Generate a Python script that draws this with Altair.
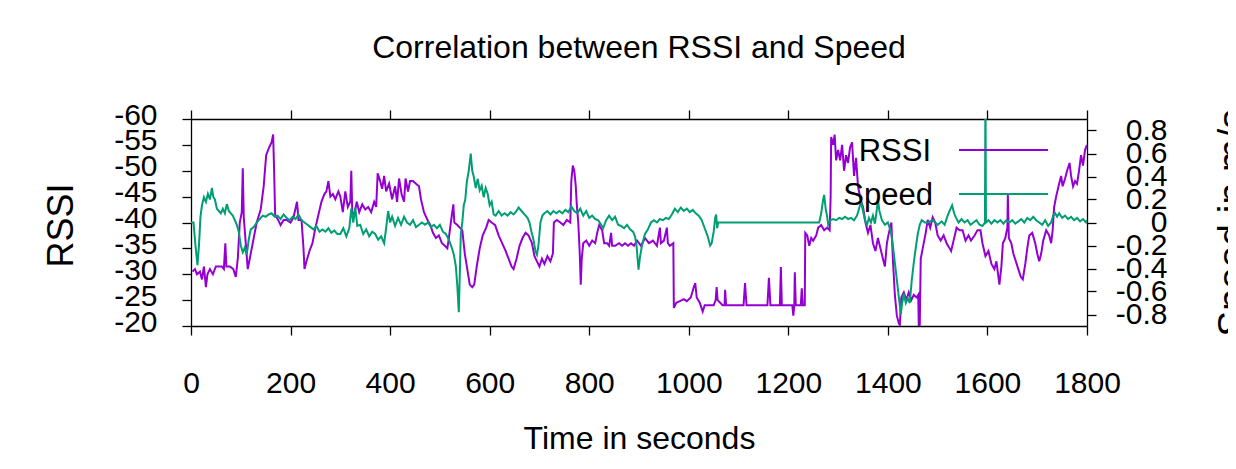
import altair as alt
import pandas as pd

# ---------------- data ----------------
rssi_points = [
    (3, -30.5), (8, -31), (12, -30), (18, -30.5), (22, -29), (26, -31.5), (30, -27.5), (33, -30),
    (38, -31), (44, -30), (50, -31.5), (56, -31.5), (62, -31.5), (66, -31), (69, -36), (71, -31.5),
    (78, -31.5), (85, -31), (90, -29.5), (94, -33), (98, -40), (102, -42), (104, -50.5), (106, -41),
    (110, -36), (114, -31), (118, -33), (124, -36), (132, -40), (140, -42.5), (146, -47), (151, -53),
    (157, -54.5), (162, -55.5), (165, -57), (167, -50), (169, -41.5), (175, -40.5), (180, -39.5),
    (186, -40.5), (192, -40.5), (200, -40), (206, -41), (213, -44), (216, -40.5), (222, -40.5),
    (226, -35), (228, -31), (232, -32.5), (238, -34.5), (244, -36), (250, -39), (256, -41.5),
    (262, -44), (268, -45.5), (272, -46), (276, -48), (280, -45), (285, -45.5), (290, -44.5),
    (296, -46), (300, -45), (305, -42), (310, -46), (315, -43), (320, -44), (322, -50), (324, -42),
    (328, -41.5), (333, -44), (338, -42), (344, -43.5), (350, -42.5), (356, -43), (362, -42),
    (368, -44), (372, -43), (375, -49.5), (380, -48), (384, -46.5), (388, -49), (392, -46),
    (398, -47.5), (404, -44.5), (410, -47), (414, -44), (418, -48.5), (423, -45.5), (428, -44),
    (431, -48.5), (436, -46), (440, -48), (446, -48), (452, -47.5), (458, -47), (462, -44.5),
    (468, -42), (475, -40.5), (481, -39.5), (486, -38), (492, -37), (498, -37.5), (504, -36),
    (510, -35.5), (515, -35), (518, -37), (522, -40), (527, -43.5), (529, -40), (535, -39.5),
    (540, -39), (545, -38.5), (550, -34), (555, -31), (560, -28), (565, -27.5), (569, -28),
    (574, -31.5), (580, -35), (586, -37.5), (593, -39), (598, -40.5), (604, -40), (611, -39.5),
    (618, -37.5), (625, -36), (632, -34.5), (638, -33), (644, -31.5), (648, -31), (654, -33),
    (660, -35.5), (666, -37), (672, -38), (678, -37.5), (685, -36), (690, -33.5), (695, -32.5),
    (700, -31.5), (705, -33), (710, -32), (716, -33.5), (722, -32.5), (727, -34), (729, -40),
    (735, -40.5), (742, -40), (748, -39.5), (755, -40.5), (762, -40), (764, -48), (767, -51),
    (770, -50), (773, -47), (775, -43.5), (778, -40), (781, -34), (783, -28), (785, -33),
    (788, -36), (794, -36.5), (800, -35.5), (806, -36.5), (812, -36), (816, -38), (820, -39.5),
    (826, -38.5), (830, -36), (836, -36), (840, -35.5), (844, -38), (846, -35.5), (852, -35.5),
    (860, -36), (866, -35.5), (872, -36), (878, -35.5), (884, -36), (890, -35.5), (896, -36.5),
    (904, -35.5), (912, -37), (920, -36), (928, -36.5), (936, -35.5), (942, -39), (944, -36),
    (950, -36.5), (956, -39), (958, -36), (962, -35.5), (969, -36), (970, -23.5), (975, -24.5),
    (982, -24.8), (990, -25.2), (996, -24.8), (1004, -25.5), (1010, -27.5), (1013, -28.3),
    (1016, -25.5), (1022, -24.5), (1028, -22.8), (1032, -24), (1040, -24), (1050, -24),
    (1054, -25), (1056, -27.5), (1058, -25), (1068, -24), (1072, -24), (1073, -27), (1075, -24),
    (1110, -24), (1113, -28.3), (1116, -24), (1158, -24), (1161, -29.3), (1164, -24), (1183, -24),
    (1185, -31.4), (1187, -24), (1208, -24), (1210, -22), (1212, -24), (1213, -30.4), (1215, -24),
    (1225, -24), (1227, -27.3), (1229, -24), (1233, -24), (1234, -38), (1238, -37.5),
    (1242, -35.5), (1246, -37), (1250, -36.5), (1256, -37.5), (1260, -39), (1266, -39.5),
    (1272, -38.5), (1278, -39), (1283, -38.5), (1285, -45), (1286, -56.5), (1290, -55),
    (1293, -57), (1296, -52), (1300, -54), (1304, -52), (1308, -55), (1312, -50), (1316, -53),
    (1320, -51.5), (1324, -54.5), (1328, -55.5), (1332, -49), (1336, -52.5), (1340, -47),
    (1345, -44.5), (1350, -43), (1355, -40), (1360, -38), (1365, -39.5), (1370, -36),
    (1375, -34.5), (1380, -37), (1385, -35), (1390, -33), (1394, -31.5), (1398, -36), (1402, -38),
    (1407, -40), (1410, -33), (1414, -26), (1418, -22), (1422, -20.5), (1424, -20.2),
    (1427, -25.5), (1432, -26.5), (1437, -25), (1442, -26.5), (1447, -25), (1452, -26),
    (1458, -25.5), (1461, -26), (1462, -20), (1464, -20), (1466, -33), (1470, -35), (1476, -38),
    (1480, -40.5), (1485, -39), (1490, -41), (1495, -40), (1500, -37.5), (1506, -36.5),
    (1512, -37.5), (1518, -36), (1524, -35), (1527, -34.5), (1532, -36.5), (1538, -39),
    (1544, -38.5), (1550, -38.5), (1556, -36.5), (1562, -37.5), (1567, -36.5), (1574, -37.5),
    (1580, -38.5), (1586, -38.5), (1590, -36), (1596, -33.5), (1602, -34.5), (1608, -32),
    (1614, -31), (1618, -32.5), (1624, -28), (1628, -31.5), (1631, -36), (1636, -37), (1640, -39),
    (1641, -45.3), (1643, -37), (1648, -36), (1652, -34), (1657, -32.5), (1662, -31),
    (1667, -29.5), (1671, -29), (1676, -32), (1680, -35), (1684, -37.5), (1690, -38), (1696, -36),
    (1700, -34), (1704, -32.5), (1708, -34), (1712, -36.5), (1718, -38.5), (1724, -37.5),
    (1728, -36), (1731, -38.5), (1734, -43), (1738, -45), (1744, -47.5), (1748, -49), (1751, -47),
    (1756, -48.5), (1760, -50), (1765, -51.5), (1768, -49), (1772, -47), (1776, -48),
    (1780, -47.5), (1784, -50), (1788, -53), (1792, -51), (1796, -54), (1800, -55),
]

speed_points = [
    (0, 0), (5, 0.0), (9, -0.2), (13, -0.37), (16, -0.2), (19, 0.05), (22, 0.15), (26, 0.22),
    (30, 0.18), (34, 0.25), (38, 0.2), (42, 0.3), (45, 0.22), (48, 0.2), (52, 0.12), (56, 0.1),
    (60, 0.08), (64, 0.12), (68, 0.08), (72, 0.16), (76, 0.1), (80, 0.08), (84, 0.06), (88, 0.02),
    (92, -0.02), (96, -0.08), (100, -0.2), (104, -0.26), (108, -0.22), (112, -0.28), (116, -0.15),
    (120, -0.06), (126, -0.04), (132, 0.0), (138, 0.03), (144, 0.06), (150, 0.05), (156, 0.07),
    (162, 0.08), (168, 0.05), (174, 0.06), (180, 0.03), (186, 0.07), (192, 0.04), (198, 0.02),
    (204, 0.05), (210, 0.03), (216, 0.07), (222, 0.02), (228, 0.0), (234, -0.02), (240, -0.04),
    (246, -0.06), (252, -0.03), (258, -0.08), (264, -0.06), (270, -0.08), (276, -0.05),
    (282, -0.09), (288, -0.07), (294, -0.1), (300, -0.1), (306, -0.05), (312, -0.12), (318, -0.05),
    (322, 0.12), (326, 0.0), (330, 0.13), (334, -0.03), (340, -0.02), (346, -0.1), (352, -0.06),
    (358, -0.12), (364, -0.08), (370, -0.1), (376, -0.15), (382, -0.12), (388, -0.18),
    (392, -0.05), (396, 0.1), (400, 0.0), (404, 0.05), (410, -0.03), (416, 0.04), (422, -0.02),
    (428, 0.05), (434, 0.0), (440, -0.02), (446, 0.02), (452, -0.04), (458, -0.02), (464, 0.0),
    (470, -0.02), (476, 0.0), (482, -0.04), (488, -0.02), (494, -0.05), (500, -0.02), (506, -0.08),
    (512, -0.1), (518, -0.15), (524, -0.22), (528, -0.28), (532, -0.38), (535, -0.55),
    (538, -0.78), (540, -0.45), (542, -0.1), (545, 0.0), (548, 0.15), (551, 0.2), (554, 0.35),
    (558, 0.45), (562, 0.6), (565, 0.45), (568, 0.4), (572, 0.3), (576, 0.38), (580, 0.28),
    (584, 0.32), (588, 0.22), (592, 0.3), (596, 0.25), (600, 0.15), (604, 0.18), (608, 0.07),
    (612, 0.06), (618, 0.1), (624, 0.06), (630, 0.08), (636, 0.06), (642, 0.09), (648, 0.07),
    (654, 0.1), (658, 0.13), (664, 0.1), (670, 0.07), (676, 0.04), (680, 0.0), (684, -0.08),
    (688, -0.15), (692, -0.25), (695, -0.28), (698, -0.2), (702, 0.0), (706, 0.06), (710, 0.08),
    (716, 0.1), (722, 0.07), (728, 0.1), (734, 0.08), (740, 0.1), (746, 0.08), (752, 0.11),
    (758, 0.09), (764, 0.14), (770, 0.1), (776, 0.08), (782, 0.12), (788, 0.06), (794, 0.1),
    (800, 0.04), (806, 0.06), (812, 0.03), (818, 0.02), (824, -0.02), (828, -0.05), (834, 0.02),
    (840, 0.06), (846, 0.02), (852, 0.05), (858, -0.02), (864, -0.03), (870, -0.05), (876, -0.02),
    (882, -0.06), (888, -0.08), (892, -0.12), (895, -0.2), (899, -0.41), (902, -0.3), (906, -0.2),
    (912, -0.1), (918, -0.06), (924, 0.0), (930, 0.02), (936, 0.0), (942, 0.03), (948, 0.02),
    (954, 0.04), (960, 0.03), (966, 0.07), (972, 0.12), (978, 0.09), (984, 0.13), (990, 0.1),
    (996, 0.12), (1002, 0.09), (1008, 0.11), (1014, 0.08), (1020, 0.06), (1026, 0.02),
    (1032, -0.05), (1038, -0.12), (1043, -0.2), (1046, -0.18), (1050, -0.08), (1053, 0.04),
    (1055, 0.07), (1057, -0.05), (1059, 0.0), (1262, 0.0), (1266, 0.08), (1270, 0.2),
    (1272, 0.24), (1275, 0.12), (1278, 0.05), (1280, -0.02), (1284, 0.02), (1290, 0.03),
    (1296, 0.02), (1302, 0.04), (1308, 0.03), (1314, 0.05), (1320, 0.03), (1326, 0.04),
    (1332, 0.02), (1338, 0.06), (1342, 0.12), (1346, 0.18), (1350, 0.1), (1354, 0.02),
    (1358, -0.02), (1362, 0.04), (1366, 0.0), (1370, 0.06), (1374, -0.01), (1378, 0.12),
    (1380, 0.2), (1383, 0.1), (1388, 0.02), (1394, -0.02), (1400, 0.0), (1406, -0.08),
    (1410, -0.2), (1414, -0.35), (1418, -0.5), (1422, -0.65), (1426, -0.8), (1428, -0.72),
    (1432, -0.62), (1436, -0.7), (1440, -0.66), (1444, -0.7), (1448, -0.5), (1452, -0.35),
    (1456, -0.22), (1460, -0.1), (1464, -0.02), (1468, 0.02), (1474, 0.0), (1480, 0.0),
    (1490, 0.02), (1500, -0.02), (1508, 0.01), (1514, -0.02), (1520, 0.06), (1526, 0.12),
    (1529, 0.15), (1533, 0.08), (1537, 0.04), (1542, 0.0), (1548, 0.03), (1554, 0.0),
    (1560, 0.02), (1566, -0.02), (1572, 0.0), (1578, 0.02), (1584, -0.02), (1590, -0.03),
    (1595, 0.0), (1596, 1.2), (1597, 0.0), (1602, 0.02), (1608, -0.01), (1614, 0.02), (1620, 0.0),
    (1626, 0.02), (1632, -0.01), (1638, 0.02), (1644, 0.0), (1650, 0.02), (1656, -0.01),
    (1662, 0.01), (1668, 0.03), (1674, 0.0), (1680, 0.04), (1686, 0.02), (1692, 0.05),
    (1698, 0.02), (1704, 0.0), (1710, -0.02), (1716, 0.02), (1722, -0.03), (1728, 0.0),
    (1732, 0.06), (1736, 0.08), (1740, 0.05), (1744, 0.08), (1750, 0.04), (1756, 0.06),
    (1762, 0.03), (1768, 0.05), (1774, 0.02), (1780, 0.04), (1786, 0.01), (1792, 0.03),
    (1798, 0.0), (1800, 0.02),
]

x_ticks = [0, 200, 400, 600, 800, 1000, 1200, 1400, 1600, 1800]
rssi_ticks = [-60, -55, -50, -45, -40, -35, -30, -25, -20]
speed_ticks = [-0.8, -0.6, -0.4, -0.2, 0, 0.2, 0.4, 0.6, 0.8]
series_names = ["RSSI", "Speed"]
chart_title = "Correlation between RSSI and Speed"

# ---------------- styling ----------------
FONT = "Liberation Sans, Arial, sans-serif"
PURPLE = "#9400D3"
GREEN = "#009E73"
W, H = 896, 207
LW = 2

rssi_df = pd.DataFrame(rssi_points, columns=["t", "rssi"])
speed_df = pd.DataFrame(speed_points, columns=["t", "speed"])

xscale = alt.Scale(domain=[0, 1800], nice=False, zero=False)
plain_label = "'' + datum.value"

x_bottom = alt.X(
    "t:Q", scale=xscale,
    axis=alt.Axis(orient="bottom", values=x_ticks, title="Time in seconds",
                  labelExpr=plain_label, labelFont=FONT, labelFontSize=30,
                  labelBaseline="alphabetic", labelPadding=57,
                  titleFont=FONT, titleFontSize=32, titleFontWeight="normal",
                  titleBaseline="alphabetic", titleAlign="center", titleX=W / 2, titleY=122),
)
x_top = alt.X(
    "t:Q", scale=xscale,
    axis=alt.Axis(orient="top", values=x_ticks, labels=False, title=""),
)

rssi_line = alt.Chart(rssi_df).mark_line(color=PURPLE, strokeWidth=LW, clip=True).encode(
    x=x_bottom,
    y=alt.Y("rssi:Q",
            scale=alt.Scale(domain=[-60, -20], reverse=True, nice=False, zero=False),
            axis=alt.Axis(orient="left", values=rssi_ticks, title="RSSI",
                          labelExpr=plain_label, labelFont=FONT, labelFontSize=30,
                          labelAlign="right", labelBaseline="middle", labelPadding=25,
                          labelOffset=-4,
                          titleFont=FONT, titleFontSize=36, titleFontWeight="normal",
                          titleAngle=270, titleAlign="center", titleBaseline="alphabetic",
                          titleX=-119, titleY=106)),
)

speed_line = alt.Chart(speed_df).mark_line(color=GREEN, strokeWidth=LW, clip=True).encode(
    x=x_top,
    y=alt.Y("speed:Q",
            scale=alt.Scale(domain=[-0.9, 0.9], nice=False, zero=False),
            axis=alt.Axis(orient="right", values=speed_ticks, title="Speed in m/s",
                          labelExpr=plain_label, labelFont=FONT, labelFontSize=30,
                          labelAlign="right", labelBaseline="middle", labelPadding=71,
                          titleFont=FONT, titleFontSize=39, titleFontWeight="normal",
                          titleAngle=270, titleAlign="center", titleBaseline="alphabetic",
                          titleX=157, titleY=H / 2)),
)

one = alt.Data(values=[{}])
title_text = alt.Chart(one).mark_text(
    align="center", baseline="alphabetic", font=FONT, fontSize=32, color="black"
).encode(x=alt.value(W / 2), y=alt.value(-61), text=alt.value(chart_title))
leg_rssi_text = alt.Chart(one).mark_text(
    align="right", baseline="alphabetic", font=FONT, fontSize=31, color="black"
).encode(x=alt.value(740), y=alt.value(42), text=alt.value(series_names[0]))
leg_speed_text = alt.Chart(one).mark_text(
    align="right", baseline="alphabetic", font=FONT, fontSize=31, color="black"
).encode(x=alt.value(742), y=alt.value(86), text=alt.value(series_names[1]))
leg_rssi_line = alt.Chart(one).mark_rule(color=PURPLE, strokeWidth=LW).encode(
    x=alt.value(768), x2=alt.value(857), y=alt.value(31))
leg_speed_line = alt.Chart(one).mark_rule(color=GREEN, strokeWidth=LW).encode(
    x=alt.value(768), x2=alt.value(857), y=alt.value(75))

chart = (
    alt.layer(rssi_line, speed_line, title_text, leg_rssi_text, leg_rssi_line,
              leg_speed_text, leg_speed_line)
    .resolve_scale(y="independent")
    .resolve_axis(x="independent", y="independent")
    .properties(
        width=W, height=H,
        autosize=alt.AutoSizeParams(type="none"),
        padding={"left": 183, "top": 111, "right": 141, "bottom": 135},
        background="white",
    )
    .configure_view(stroke="transparent")
    .configure_axis(domainColor="black", domainWidth=1.3, tickColor="black", tickWidth=1.3,
                    tickSize=9, grid=False, labelColor="black", titleColor="black",
                    labelOverlap=False, labelFlush=False, labelBound=False)
)

chart.save("out.html", embed_options={"renderer": "svg", "actions": False})
